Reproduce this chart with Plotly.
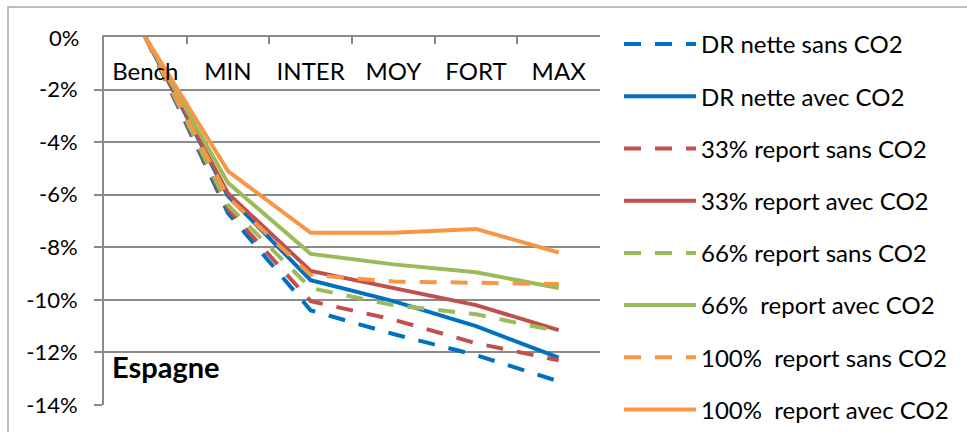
import plotly.graph_objects as go

categories = ["Bench", "MIN", "INTER", "MOY", "FORT", "MAX"]

dr_nette_sans = [0, -6.7, -10.4, -11.3, -12.1, -13.1]
dr_nette_avec = [0, -6.05, -9.25, -10.05, -11.0, -12.2]
r33_sans = [0, -6.55, -10.05, -10.75, -11.65, -12.3]
r33_avec = [0, -5.95, -8.9, -9.55, -10.2, -11.15]
r66_sans = [0, -6.4, -9.55, -10.2, -10.55, -11.2]
r66_avec = [0, -5.55, -8.25, -8.65, -8.95, -9.55]
r100_sans = [0, -6.1, -9.05, -9.3, -9.35, -9.4]
r100_avec = [0, -5.1, -7.45, -7.45, -7.3, -8.2]

series_names = [
    "DR nette sans CO2",
    "DR nette avec CO2",
    "33% report sans CO2",
    "33% report avec CO2",
    "66% report sans CO2",
    "66%  report avec CO2",
    "100%  report sans CO2",
    "100%  report avec CO2",
]
series_values = [dr_nette_sans, dr_nette_avec, r33_sans, r33_avec,
                 r66_sans, r66_avec, r100_sans, r100_avec]
series_colors = ["#0070C0", "#0070C0", "#C0504D", "#C0504D",
                 "#9BBB59", "#9BBB59", "#F79646", "#F79646"]
series_dash = ["17px,14px", "solid"] * 4

y_tickvals = [0, -2, -4, -6, -8, -10, -12, -14]
y_ticktext = ["0%", "-2%", "-4%", "-6%", "-8%", "-10%", "-12%", "-14%"]

FONT = "Lato, Open Sans, sans-serif"
GRID = "#8A8A8A"

fig = go.Figure()
for i, (name, vals, col, dash) in enumerate(zip(series_names, series_values, series_colors, series_dash)):
    fig.add_trace(go.Scatter(
        x=categories, y=vals, name=name, mode="lines",
        line=dict(color=col, width=4, dash=dash),
        legendgroup=f"g{i}",
    ))

fig.update_layout(
    width=967, height=432,
    margin=dict(l=104, r=367, t=37, b=27, autoexpand=False),
    paper_bgcolor="white", plot_bgcolor="white",
    font=dict(family=FONT, size=22, color="black"),
    showlegend=True,
    legend=dict(
        x=1 + (619 - 600) / 496, y=1 + (37 - 22) / 368, xanchor="left", yanchor="top",
        font=dict(family=FONT, size=24, color="black"),
        itemwidth=72, tracegroupgap=18, maxheight=440,
        bgcolor="rgba(0,0,0,0)",
    ),
    xaxis=dict(
        type="category", range=[-0.5, 5.5], side="top",
        showline=True, linecolor=GRID, linewidth=2,
        ticks="inside", tickson="boundaries", ticklen=7, tickcolor=GRID, tickwidth=2,
        ticklabelposition="inside", ticklabelstandoff=21,
        showgrid=False, zeroline=False,
        tickfont=dict(family=FONT, size=24, color="black"),
    ),
    yaxis=dict(
        range=[-14, 0], tickvals=y_tickvals, ticktext=y_ticktext,
        showline=True, linecolor=GRID, linewidth=2,
        ticks="outside", ticklen=8, tickcolor=GRID, tickwidth=2,
        showgrid=True, gridcolor=GRID, gridwidth=2, zeroline=False,
        tickfont=dict(family=FONT, size=22, color="black"),
        ticklabelstandoff=12, ticklabeloverflow="allow",
    ),
    shapes=[dict(
        type="rect", xref="paper", yref="paper",
        x0=(8 - 104) / 496, x1=(975 - 104) / 496,
        y0=1 + (37 - 7) / 368, y1=-(440 - 405) / 368,
        line=dict(color="#A6A6A6", width=1.5), fillcolor="rgba(0,0,0,0)", layer="below",
    )],
    annotations=[
        dict(
            text="<b>Espagne</b>", xref="paper", yref="y",
            x=(110 - 104) / 496, y=-12.55, xanchor="left", yanchor="middle",
            showarrow=False, font=dict(family=FONT, size=29, color="black"),
        ),
        dict(
            text=y_ticktext[0], xref="paper", yref="y",
            x=(81 - 104) / 496, y=y_tickvals[0], xanchor="right", yanchor="middle",
            showarrow=False, font=dict(family=FONT, size=22, color="black"),
        ),
    ],
)

fig.write_html("out.html", config={"displayModeBar": False},
               post_script="document.body.style.margin='0';")
